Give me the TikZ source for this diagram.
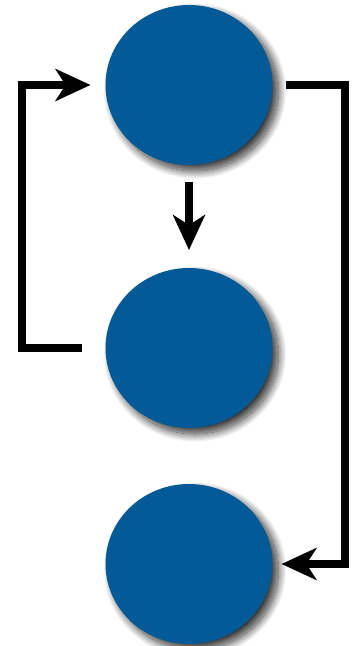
\documentclass[tikz,border=0pt]{standalone}
\usepackage{tikz}
\usetikzlibrary{arrows.meta,positioning,shapes.geometric,shadows.blur}
\definecolor{dotblue}{RGB}{4,90,150}

\begin{document}
\begin{tikzpicture}[
  dot/.style={ellipse, fill=dotblue, minimum width=4.175cm,
              minimum height=4cm, inner sep=0pt, outer sep=0pt,
              blur shadow={shadow xshift=0.15cm, shadow yshift=-0.15cm,
                           shadow blur radius=0.2cm, shadow blur steps=20,
                           shadow opacity=80}},
  ar/.style={-{Stealth[length=0.875cm, width=0.8cm, inset'=0pt 0.29]},
             line width=0.2cm, miter limit=10},
  node distance=2.575cm
]
  \useasboundingbox (0,0) rectangle (8.875,-16.15);

  \node[dot] (top) at (4.725,-2.125) {};
  \node[dot, below=of top] (mid) {};
  \node[dot, below=1.4cm of mid] (bot) {};

  \draw[ar] ([yshift=-0.425cm]top.south) -- ([yshift=0.45cm]mid.north);
  \draw[ar] ([xshift=-0.6cm]mid.west) -- ++(-1.5cm,0)
    |- ([xshift=-0.375cm]top.west);
  \draw[ar] ([xshift=0.325cm]top.east) -- ++(1.475cm,0)
    |- ([xshift=0.225cm]bot.east);
\end{tikzpicture}
\end{document}
